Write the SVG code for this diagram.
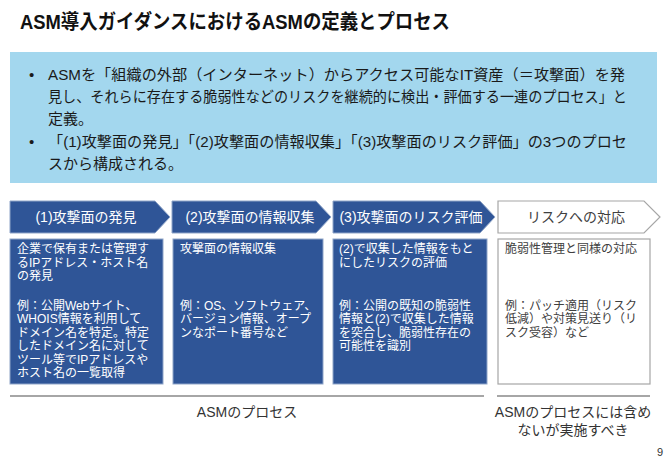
<svg xmlns="http://www.w3.org/2000/svg" width="668" height="462" viewBox="0 0 668 462">
<style>
text{font-family:"Liberation Sans","Noto Sans CJK JP",sans-serif;}
.title{font-size:20px;font-weight:bold;fill:#111;}
.bul{font-size:15px;fill:#1a1a1a;}
.head{font-size:14px;text-anchor:middle;}
.body{font-size:12px;}
.w{fill:#ffffff;}
.d{fill:#404040;}
.dark{fill:#2F5597;stroke:#8FA5C8;stroke-width:1;}
.light{fill:#ffffff;stroke:#A6A6A6;stroke-width:1.2;}
.foot{font-size:14px;fill:#333;text-anchor:middle;}
</style>
<rect width="668" height="462" fill="#ffffff"/>
<text class="title" x="20" y="29" textLength="430" lengthAdjust="spacingAndGlyphs">ASM導入ガイダンスにおけるASMの定義とプロセス</text>
<g id="summary">
<rect x="10" y="52" width="647" height="131" fill="#A3D7EE"/>
<text class="bul" x="29" y="80">•</text>
<text class="bul" x="48" y="80" textLength="577" lengthAdjust="spacingAndGlyphs">ASMを「組織の外部（インターネット）からアクセス可能なIT資産（＝攻撃面）を発</text>
<text class="bul" x="48" y="102" textLength="579" lengthAdjust="spacingAndGlyphs">見し、それらに存在する脆弱性などのリスクを継続的に検出・評価する一連のプロセス」と</text>
<text class="bul" x="48" y="124">定義。</text>
<text class="bul" x="29" y="147">•</text>
<text class="bul" x="48" y="147" textLength="579" lengthAdjust="spacingAndGlyphs">「(1)攻撃面の発見」「(2)攻撃面の情報収集」「(3)攻撃面のリスク評価」の3つのプロセ</text>
<text class="bul" x="48" y="169">スから構成される。</text>
</g>
<g id="step1">
<polygon class="dark" points="10,201 155,201 170,217 155,233 10,233"/>
<text class="head w" x="86" y="222">(1)攻撃面の発見</text>
<rect class="dark" x="10" y="239" width="153" height="145"/>
<text class="body w" x="17" y="253">企業で保有または管理す</text>
<text class="body w" x="17" y="266.5">るIPアドレス・ホスト名</text>
<text class="body w" x="17" y="280">の発見</text>
<text class="body w" x="17" y="309.5">例：公開Webサイト、</text>
<text class="body w" x="17" y="323">WHOIS情報を利用して</text>
<text class="body w" x="17" y="336.5">ドメイン名を特定。特定</text>
<text class="body w" x="17" y="350">したドメイン名に対して</text>
<text class="body w" x="17" y="363.5">ツール等でIPアドレスや</text>
<text class="body w" x="17" y="377">ホスト名の一覧取得</text>
</g>
<g id="step2">
<polygon class="dark" points="172,201 316,201 331,217 316,233 172,233"/>
<text class="head w" x="250" y="222">(2)攻撃面の情報収集</text>
<rect class="dark" x="173" y="239" width="150" height="145"/>
<text class="body w" x="180" y="253">攻撃面の情報収集</text>
<text class="body w" x="180" y="309.5">例：OS、ソフトウェア、</text>
<text class="body w" x="180" y="323">バージョン情報、オープ</text>
<text class="body w" x="180" y="336.5">ンなポート番号など</text>
</g>
<g id="step3">
<polygon class="dark" points="333,201 480,201 495,217 480,233 333,233"/>
<text class="head w" x="411" y="222">(3)攻撃面のリスク評価</text>
<rect class="dark" x="333" y="239" width="154" height="145"/>
<text class="body w" x="339" y="253">(2)で収集した情報をもと</text>
<text class="body w" x="339" y="266.5">にしたリスクの評価</text>
<text class="body w" x="339" y="309.5">例：公開の既知の脆弱性</text>
<text class="body w" x="339" y="323">情報と(2)で収集した情報</text>
<text class="body w" x="339" y="336.5">を突合し、脆弱性存在の</text>
<text class="body w" x="339" y="350">可能性を識別</text>
</g>
<g id="step4">
<polygon class="light" points="498,201 644,201 660,217 644,233 498,233"/>
<text class="head d" x="576" y="222">リスクへの対応</text>
<rect class="light" x="498" y="239" width="152" height="145"/>
<text class="body d" x="505" y="253">脆弱性管理と同様の対応</text>
<text class="body d" x="505" y="309.5">例：パッチ適用（リスク</text>
<text class="body d" x="505" y="323">低減）や対策見送り（リ</text>
<text class="body d" x="505" y="336.5">スク受容）など</text>
</g>
<g id="connectors">
<line x1="10" y1="396" x2="484" y2="396" stroke="#A6A6A6" stroke-width="2"/>
<line x1="497" y1="396" x2="650" y2="396" stroke="#A6A6A6" stroke-width="2"/>
</g>
<g id="labels">
<text class="foot" x="247" y="417">ASMのプロセス</text>
<text class="foot" x="573" y="417">ASMのプロセスには含め</text>
<text class="foot" x="573" y="435">ないが実施すべき</text>
<text x="657" y="456" font-size="11" fill="#333">9</text>
</g>
</svg>
